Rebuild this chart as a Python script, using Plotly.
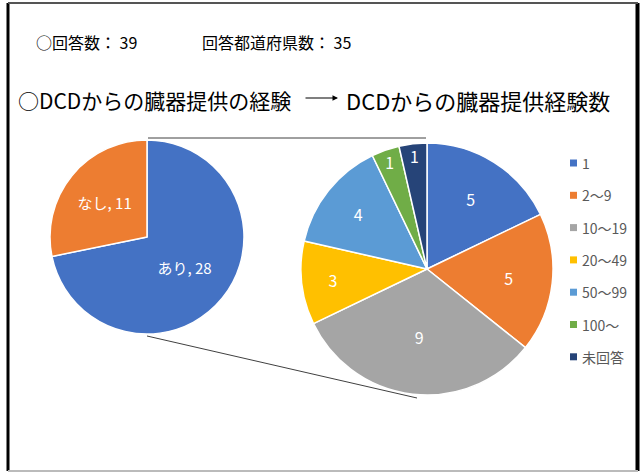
import plotly.graph_objects as go

W, H = 640, 473

# Respondents: any DCD organ donation experience
exp_labels = ["あり", "なし"]
exp_values = [28, 11]
exp_colors = ["#4472C4", "#ED7D31"]

# Number of DCD donations among those with experience
cnt_labels = ["1", "2〜9", "10〜19", "20〜49", "50〜99", "100〜", "未回答"]
cnt_values = [5, 5, 9, 3, 4, 1, 1]
cnt_colors = ["#4472C4", "#ED7D31", "#A5A5A5", "#FFC000", "#5B9BD5", "#70AD47", "#264478"]

FONT = "Noto Sans CJK JP, Meiryo, sans-serif"


def px(x):
    return x / W


def py(y):
    return 1 - y / H


fig = go.Figure()

fig.add_trace(go.Pie(
    labels=exp_labels, values=exp_values, sort=False, direction="clockwise", rotation=0,
    marker=dict(colors=exp_colors, line=dict(color="white", width=1.5)),
    texttemplate="%{label}, %{value}", textposition="inside",
    insidetextorientation="horizontal",
    textfont=dict(family=FONT, size=15, color="white"),
    domain=dict(x=[px(50), px(244)], y=[py(334), py(140)]),
    showlegend=False, hoverinfo="label+value",
))

fig.add_trace(go.Pie(
    labels=cnt_labels, values=cnt_values, sort=False, direction="clockwise", rotation=0,
    marker=dict(colors=cnt_colors, line=dict(color="white", width=1.5)),
    texttemplate="%{value}", textposition="inside",
    insidetextorientation="horizontal",
    textfont=dict(family=FONT, size=16, color="white"),
    domain=dict(x=[px(301), px(553)], y=[py(395), py(143)]),
    showlegend=False, hoverinfo="label+value",
))

shapes = []
annotations = []

# connector lines from the "あり" slice to the breakdown pie
shapes.append(dict(type="line", xref="paper", yref="paper",
                   x0=px(148), y0=py(138), x1=px(426), y1=py(138),
                   line=dict(color="#404040", width=1)))
shapes.append(dict(type="line", xref="paper", yref="paper",
                   x0=px(147), y0=py(336), x1=px(417), y1=py(398),
                   line=dict(color="#404040", width=1)))

# legend for the breakdown pie
leg_y0, leg_dy = 163, 32.3
for i, (lab, col) in enumerate(zip(cnt_labels, cnt_colors)):
    yc = leg_y0 + i * leg_dy
    shapes.append(dict(type="rect", xref="paper", yref="paper",
                       x0=px(570), x1=px(577), y0=py(yc + 3.5), y1=py(yc - 3.5),
                       fillcolor=col, line=dict(width=0)))
    annotations.append(dict(text=lab, xref="paper", yref="paper", x=px(580), y=py(yc),
                            xanchor="left", yanchor="middle", showarrow=False,
                            font=dict(family=FONT, size=14, color="#595959")))

# header texts
annotations.append(dict(text="○回答数： 39", xref="paper", yref="paper",
                        x=px(34), y=py(42), xanchor="left", yanchor="middle", showarrow=False,
                        font=dict(family=FONT, size=16, color="#000000")))
annotations.append(dict(text="回答都道府県数： 35", xref="paper", yref="paper",
                        x=px(200), y=py(42), xanchor="left", yanchor="middle", showarrow=False,
                        font=dict(family=FONT, size=16, color="#000000")))
annotations.append(dict(text="○DCDからの臓器提供の経験",
                        xref="paper", yref="paper",
                        x=px(16), y=py(100), xanchor="left", yanchor="middle", showarrow=False,
                        font=dict(family=FONT, size=21, color="#000000")))
annotations.append(dict(text="DCDからの臓器提供経験数",
                        xref="paper", yref="paper",
                        x=px(344), y=py(100), xanchor="left", yanchor="middle", showarrow=False,
                        font=dict(family=FONT, size=22, color="#000000")))
# arrow between the two headings
annotations.append(dict(text="", xref="paper", yref="paper", axref="pixel", ayref="pixel",
                        x=px(338), y=py(98), ax=-34, ay=0,
                        showarrow=True, arrowhead=2, arrowsize=1, arrowwidth=1.1,
                        arrowcolor="#000000"))

# frame
shapes.append(dict(type="line", xref="paper", yref="paper", x0=px(8), x1=px(8),
                   y0=py(3), y1=py(471), line=dict(color="#000000", width=3)))
shapes.append(dict(type="line", xref="paper", yref="paper", x0=px(637.5), x1=px(637.5),
                   y0=py(3), y1=py(471), line=dict(color="#000000", width=4)))
shapes.append(dict(type="line", xref="paper", yref="paper", x0=px(8), x1=px(638),
                   y0=py(3), y1=py(3), line=dict(color="#555555", width=2)))
shapes.append(dict(type="line", xref="paper", yref="paper", x0=px(8), x1=px(638),
                   y0=py(471), y1=py(471), line=dict(color="#BBBBBB", width=2)))

fig.update_layout(
    width=W, height=H, margin=dict(l=0, r=0, t=0, b=0),
    paper_bgcolor="white", plot_bgcolor="white",
    shapes=shapes, annotations=annotations,
    font=dict(family=FONT),
)

fig.write_html("out.html")
